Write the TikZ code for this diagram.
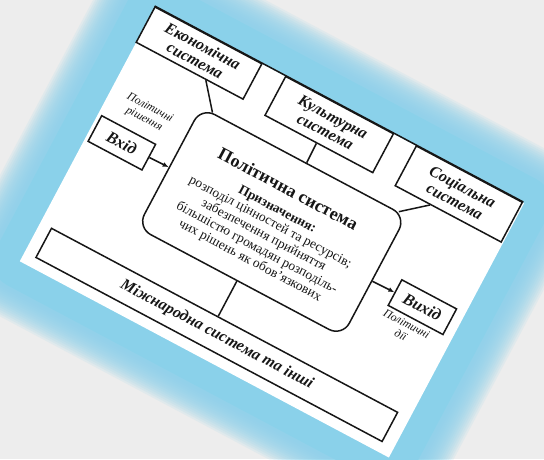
\documentclass[tikz,border=0pt]{standalone}
\usepackage{fontspec}
\setmainfont{Liberation Serif}
\usetikzlibrary{calc,arrows.meta}
\definecolor{bgc}{HTML}{EDEDED}
\definecolor{glowc}{HTML}{8AD1EA}
\definecolor{ink}{HTML}{161616}
\tikzset{
  box/.style={draw=ink, line width=1.5pt, fill=white, inner sep=0pt, align=center,
    text=ink, font=\fontsize{16}{16.5}\selectfont\bfseries\itshape},
  iobox/.style={box, font=\fontsize{16.5}{17}\selectfont\bfseries\itshape},
  mainbox/.style={draw=ink, line width=1.5pt, fill=white, rounded corners=15pt, inner sep=0pt},
  lbl/.style={text=ink, align=center, inner sep=0pt, font=\fontsize{11.5}{12.5}\selectfont\itshape},
  conn/.style={draw=ink, line width=1.5pt},
  arr/.style={conn, -{Latex[length=6pt,width=5pt]}},
  glowline/.style={draw=glowc, line join=round}
}
\begin{document}
\begin{tikzpicture}[x=1pt,y=1pt]
\useasboundingbox (0,0) rectangle (544,459);
\fill[bgc] (0,0) rectangle (544,459);
\begin{scope}[shift={(155,452)}, rotate=-28, every node/.append style={transform shape}]
  % glow
  \foreach \w in {116,112,108,104,100,96,92,88,84,80,76,72,68,64,60} {
    \draw[glowline, line width=\w pt, opacity=0.13] (0,0) rectangle (418,-288);
  }
  \draw[glowline, line width=54pt] (0,0) rectangle (418,-288);
  % paper
  \fill[white] (0,0) rectangle (418,-288);
  % boxes
  \node[box, minimum width=121pt, minimum height=40pt] (econ) at (60.5,-20) {Економічна\\система};
  \node[box, minimum width=122pt, minimum height=44pt] (cult) at (209,-22) {Культурна\\система};
  \node[box, minimum width=120pt, minimum height=45pt] (soc) at (356,-22.5) {Соціальна\\система};
  \draw[conn] (econ.north west) -- (soc.north east);
  \node[iobox, minimum width=61pt, minimum height=29pt] (inp) at (34.5,-135.5) {Вхід};
  \node[iobox, minimum width=62pt, minimum height=29pt] (outp) at (377,-139.5) {Вихід};
  \node[mainbox, minimum width=232pt, minimum height=136pt] (pol) at (204,-135) {};
  \node[box, minimum width=392pt, minimum height=33pt, font=\fontsize{16}{17}\selectfont\bfseries\itshape] (intl) at (208.5,-260.5) {Міжнародна система та інші};
  % texts in main box
  \node[text=ink, inner sep=0pt, font=\fontsize{18}{19}\selectfont\bfseries] (poltitle) at (203,-98) {Політична система};
  \node[text=ink, inner sep=0pt, align=center, font=\fontsize{13.5}{14.5}\selectfont] (polbody) at (203,-151)
    {\textbf{Призначення:}\\розподіл цінностей та ресурсів;\\забезпечення прийняття\\більшістю громадян розподіль-\\чих рішень як обов’язкових};
  % labels
  \node[lbl] (linp) at (43,-98) {Політичні\\рішення};
  \node[lbl] (lout) at (371,-168) {Політичні\\дії};
  % connectors
  \draw[conn] ($(econ.south west)!0.653!(econ.south east)$) -- ($(pol.north west)!0.056!(pol.north east)$);
  \draw[conn] ($(cult.south west)!0.48!(cult.south east)$) -- ($(pol.north west)!0.513!(pol.north east)$);
  \draw[conn] ($(soc.south west)!0.333!(soc.south east)$) -- ($(pol.north west)!0.96!(pol.north east)$);
  \draw[arr] (inp.east) -- (pol.west);
  \draw[arr] ($(pol.north east)!0.537!(pol.south east)$) -- (outp.west);
  \draw[conn] ($(pol.south west)!0.487!(pol.south east)$) -- ($(intl.north west)!0.481!(intl.north east)$);
\end{scope}
\end{tikzpicture}
\end{document}
